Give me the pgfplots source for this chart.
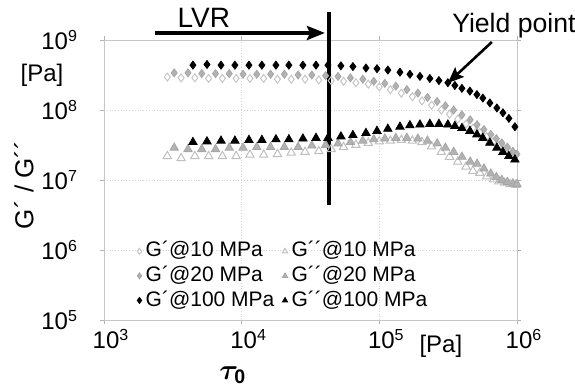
\documentclass[border=0pt]{standalone}
\usepackage{pgfplots}
\pgfplotsset{compat=1.18}
\usepackage{pgfplotstable}
\usepackage{fontspec}
\setmainfont{Liberation Sans}
\usepackage{amsmath}
\usepackage{bm}
\usetikzlibrary{arrows.meta}

\pgfplotstableread{
x y
2884 2.95e8
3631 2.88e8
4571 2.88e8
5754 2.82e8
7244 2.82e8
9120 2.82e8
11482 2.82e8
14454 2.82e8
18197 2.75e8
22909 2.75e8
28840 2.75e8
36308 2.69e8
44668 2.63e8
54954 2.57e8
67608 2.45e8
83176 2.34e8
100000 2.14e8
120226 1.95e8
144544 1.74e8
173780 1.55e8
204174 1.35e8
239883 1.17e8
281838 1.00e8
323594 8.71e7
371535 7.41e7
426580 6.31e7
478630 5.50e7
537032 4.79e7
602560 4.17e7
676083 3.55e7
741310 3.16e7
812831 2.82e7
891251 2.51e7
977237 2.29e7
}\gpten

\pgfplotstableread{
x y
2884 2.19e7
3631 2.04e7
4571 2.19e7
5754 2.19e7
7244 2.19e7
9120 2.19e7
11482 2.29e7
14454 2.29e7
18197 2.34e7
22909 2.45e7
28840 2.51e7
36308 2.57e7
44668 2.75e7
54954 2.95e7
67608 3.16e7
83176 3.39e7
100000 3.55e7
120226 3.63e7
144544 3.72e7
173780 3.63e7
204174 3.47e7
239883 3.02e7
281838 2.51e7
323594 2.14e7
371535 1.82e7
426580 1.55e7
478630 1.35e7
537032 1.26e7
602560 1.12e7
676083 1.02e7
741310 9.55e6
812831 9.12e6
891251 8.71e6
977237 8.51e6
}\gppten

\pgfplotstableread{
x y
3236 3.39e8
4074 3.39e8
5129 3.31e8
6457 3.31e8
8128 3.31e8
10233 3.24e8
12882 3.24e8
16218 3.24e8
20417 3.24e8
25704 3.16e8
32359 3.16e8
40738 3.09e8
50119 3.02e8
61660 2.88e8
75858 2.75e8
91201 2.57e8
109648 2.40e8
131826 2.19e8
158489 1.95e8
190546 1.74e8
223872 1.51e8
263027 1.32e8
301995 1.15e8
346737 1.00e8
398107 8.51e7
457088 7.24e7
512861 6.17e7
575440 5.25e7
645654 4.47e7
707946 3.89e7
776247 3.39e7
851138 2.95e7
933254 2.57e7
1000000 2.34e7
}\gptwenty

\pgfplotstableread{
x y
3236 2.88e7
4074 2.75e7
5129 2.75e7
6457 2.75e7
8128 2.88e7
10233 2.88e7
12882 2.95e7
16218 2.95e7
20417 2.95e7
25704 2.95e7
32359 3.09e7
40738 3.16e7
50119 3.31e7
61660 3.47e7
75858 3.63e7
91201 3.80e7
109648 3.89e7
131826 3.98e7
158489 3.98e7
190546 3.89e7
223872 3.63e7
263027 3.31e7
301995 2.88e7
346737 2.51e7
398107 2.14e7
457088 1.82e7
512861 1.70e7
575440 1.45e7
645654 1.23e7
707946 1.10e7
776247 1.00e7
851138 9.33e6
933254 8.91e6
1000000 8.71e6
}\gpptwenty

\pgfplotstableread{
x y
4426 4.37e8
5598 4.47e8
7079 4.37e8
8933 4.37e8
11298 4.37e8
14028 4.37e8
17742 4.37e8
22029 4.37e8
27861 4.37e8
34674 4.37e8
42364 4.37e8
52602 4.27e8
64269 4.17e8
79983 3.98e8
96161 3.89e8
115345 3.72e8
141254 3.47e8
166725 3.24e8
197242 3.02e8
232809 2.82e8
271019 2.63e8
314775 2.45e8
353997 2.24e8
398107 2.04e8
454988 1.86e8
511682 1.66e8
564937 1.48e8
635331 1.26e8
714496 1.07e8
790679 9.12e7
872971 7.59e7
966051 5.75e7
}\gphundred

\pgfplotstableread{
x y
4426 3.47e7
5598 3.55e7
7079 3.63e7
8933 3.63e7
11298 3.72e7
14028 3.72e7
17742 3.80e7
22029 3.80e7
27861 3.89e7
34674 3.98e7
42364 3.98e7
52602 4.17e7
64269 4.37e7
79983 4.68e7
96161 5.01e7
115345 5.37e7
141254 5.75e7
166725 6.03e7
197242 6.17e7
232809 6.31e7
271019 6.31e7
314775 6.17e7
353997 5.89e7
398107 5.50e7
454988 5.01e7
511682 4.47e7
564937 3.98e7
635331 3.39e7
714496 2.88e7
790679 2.51e7
872971 2.19e7
966051 1.95e7
}\gpphundred

\pgfplotsset{
  legmark/.style={legend image code/.code={\draw[##1,/tikz/mark size=1.5pt] plot coordinates {(0pt,0pt)};}}
}

\begin{document}
\begin{tikzpicture}
\begin{axis}[
  xmode=log, ymode=log,
  scale only axis, width=206.5pt, height=140pt,
  xmin=1e3, xmax=1e6, ymin=1e5, ymax=1e9,
  xminorticks=false, yminorticks=false,
  axis line style={gray!45},
  grid=major, major grid style={gray!35, densely dotted},
  tick align=outside, major tick length=2pt, tick style={gray!60},
  xtick={1e3,1e4,1e5,1e6},
  xticklabels={10\textsuperscript{3},10\textsuperscript{4},10\textsuperscript{5},10\textsuperscript{6}},
  ytick={1e5,1e6,1e7,1e8,1e9},
  yticklabels={10\textsuperscript{5},10\textsuperscript{6},10\textsuperscript{7},10\textsuperscript{8},10\textsuperscript{9}},
  tick label style={font=\fontsize{12}{14}\selectfont},
  yticklabel style={xshift=-7.5pt},
  xticklabel style={yshift=1pt, xshift=3.5pt},
  clip=false,
  legend columns=2,
  legend style={at={(rel axis cs:0.065,0.305)}, anchor=north west, draw=none, fill=none,
    font=\fontsize{10.5}{12}\selectfont,
    nodes={inner ysep=0.5pt, inner xsep=2pt, text height=8.5pt, text depth=2.8pt},
    /tikz/every even column/.append style={column sep=2pt}},
  legend cell align=left,
]
\addplot[only marks, mark=diamond, mark size=2pt, mark options={draw=gray!45, fill=white, line width=0.5pt}, legmark] table {\gpten};
\addlegendentry{G´@10 MPa}
\addplot[only marks, mark=triangle, mark size=2.4pt, mark options={draw=gray!50, fill=white, line width=0.5pt}, legmark] table {\gppten};
\addlegendentry{G´´@10 MPa}
\addplot[only marks, mark=diamond*, mark size=2pt, mark options={draw=gray!70, fill=gray!60}, legmark] table {\gptwenty};
\addlegendentry{G´@20 MPa}
\addplot[only marks, mark=triangle*, mark size=2.4pt, mark options={draw=gray!70, fill=gray!60}, legmark] table {\gpptwenty};
\addlegendentry{G´´@20 MPa}
\addplot[only marks, mark=diamond*, mark size=2pt, mark options={draw=black, fill=black}, legmark] table {\gphundred};
\addlegendentry{G´@100 MPa}
\addplot[only marks, mark=triangle*, mark size=2.4pt, mark options={draw=black, fill=black}, legmark] table {\gpphundred};
\addlegendentry{G´´@100 MPa}

% LVR annotation
\draw[line width=1.8pt, -{Stealth[length=9pt,width=7pt,inset=1.5pt]}] (axis cs:2344,1.259e9) -- (axis cs:40270,1.259e9);
\draw[line width=1.8pt] (axis cs:43050,2.51e9) -- (axis cs:43050,4.4e6);
\node[font=\fontsize{14}{16}\selectfont] at (axis cs:5321,2.06e9) {LVR};
% Yield point
\node[font=\fontsize{13.3}{15}\selectfont, anchor=base west, inner sep=0pt] at (axis cs:336500,1.30e9) {Yield point};
\draw[line width=1.3pt, -{Stealth[length=8pt,width=6.5pt,inset=1.5pt]}] (axis cs:657000,9.36e8) -- (axis cs:314800,2.43e8);
% unit labels
\node[font=\fontsize{12}{14}\selectfont, xshift=-31pt] at (rel axis cs:0,0.875) {[Pa]};
\node[font=\fontsize{12}{14}\selectfont, anchor=north, yshift=-4pt] at (axis cs:2.8e5,1e5) {[Pa]};
% axis labels
\node[font=\fontsize{13}{15}\selectfont, xshift=-40pt, rotate=90] at (rel axis cs:0,0.482) {G´ / G´´};
\node[font=\fontsize{14}{16}\selectfont, yshift=-27.5pt] at (rel axis cs:0.312,0) {$\bm{\tau}_{\mathbf{0}}$};
\end{axis}
\pgfresetboundingbox
\path[use as bounding box] (-52pt,-35.5pt) rectangle (235.5pt,160pt);
\end{tikzpicture}
\end{document}
